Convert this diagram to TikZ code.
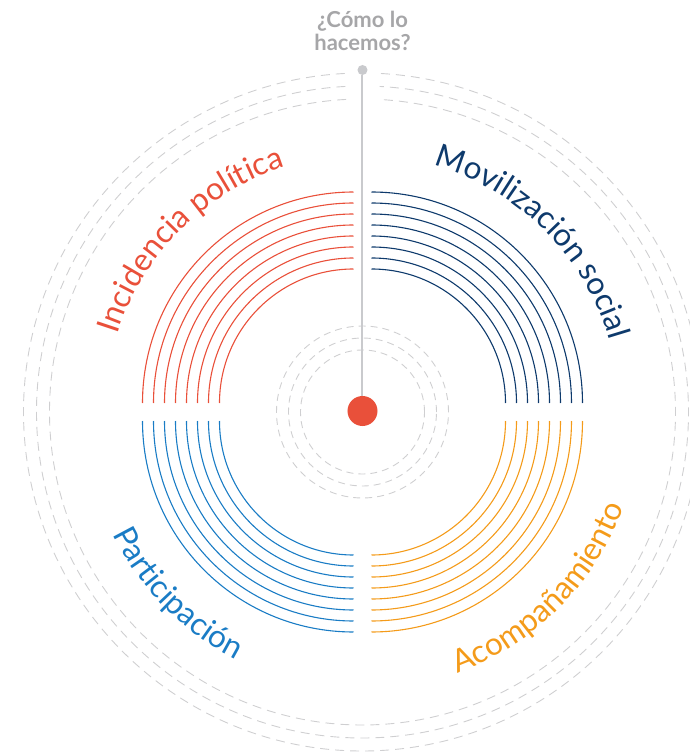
\documentclass[tikz,border=0pt]{standalone}
\usepackage{fontspec}
\setmainfont{Lato}
\usetikzlibrary{decorations.text}

\definecolor{rojo}{HTML}{E9503A}
\definecolor{marino}{HTML}{0E3A6C}
\definecolor{azul}{HTML}{1A7CC5}
\definecolor{naranja}{HTML}{F49B1A}
\definecolor{guiagris}{HTML}{CFCFD1}
\definecolor{lineagris}{HTML}{C9CACD}
\definecolor{titulogris}{HTML}{A6A6A8}

\newcommand{\etiq}{\fontsize{31.5}{31.5}\selectfont}

\begin{document}
\begin{tikzpicture}[x=1pt,y=1pt,
    aro/.style={line width=1.1pt},
    guia/.style={guiagris,line width=0.9pt,dash pattern=on 9pt off 6pt},
    guiachica/.style={guiagris,line width=0.9pt,dash pattern=on 7pt off 5pt}
]
    \useasboundingbox (-362.5,-343) rectangle (327.5,412);

    \foreach \r in {313,326,339}
        \draw[guia] (93:\r) arc [start angle=93,end angle=447,radius=\r];
    \foreach \r in {62,74,86}
        \draw[guiachica] (0,0) circle [radius=\r];

    \foreach \r in {134,145,...,211} {
        \draw[aro,rojo] ([shift={(-9,9)}]90:\r) arc [start angle=90,end angle=180,radius=\r];
        \draw[aro,marino] ([shift={(9,9)}]90:\r) arc [start angle=90,end angle=0,radius=\r];
        \draw[aro,azul] ([shift={(-9,-9)}]180:\r) arc [start angle=180,end angle=270,radius=\r];
        \draw[aro,naranja] ([shift={(9,-9)}]270:\r) arc [start angle=270,end angle=360,radius=\r];
    }

    \node[circle,fill=lineagris,inner sep=0pt,minimum size=10pt] (arriba) at (0,342) {};
    \node[circle,fill=rojo,inner sep=0pt,minimum size=30pt] (centro) at (0,1) {};
    \draw[lineagris,line width=2pt] (arriba) -- (centro);

    \node[titulogris,font=\fontsize{22}{23}\selectfont\bfseries,align=center] (pregunta) at (0,381) {¿Cómo lo\\hacemos?};

    \path[decorate,decoration={text along path,text align=center,
        text={|\etiq\color{rojo}|Incidencia política}}]
        (164:257) arc [start angle=164,end angle=106,radius=257];
    \path[decorate,decoration={text along path,text align=center,
        text={|\etiq\color{marino}|Movilización social}}]
        (74:257) arc [start angle=74,end angle=16,radius=257];
    \path[decorate,decoration={text along path,text align=center,
        text={|\etiq\color{azul}|Participación}}]
        (203:278) arc [start angle=203,end angle=246,radius=278];
    \path[decorate,decoration={text along path,text align=center,
        text={|\etiq\color{naranja}|Acompañamiento}}]
        (286:278) arc [start angle=286,end angle=344,radius=278];
\end{tikzpicture}
\end{document}
